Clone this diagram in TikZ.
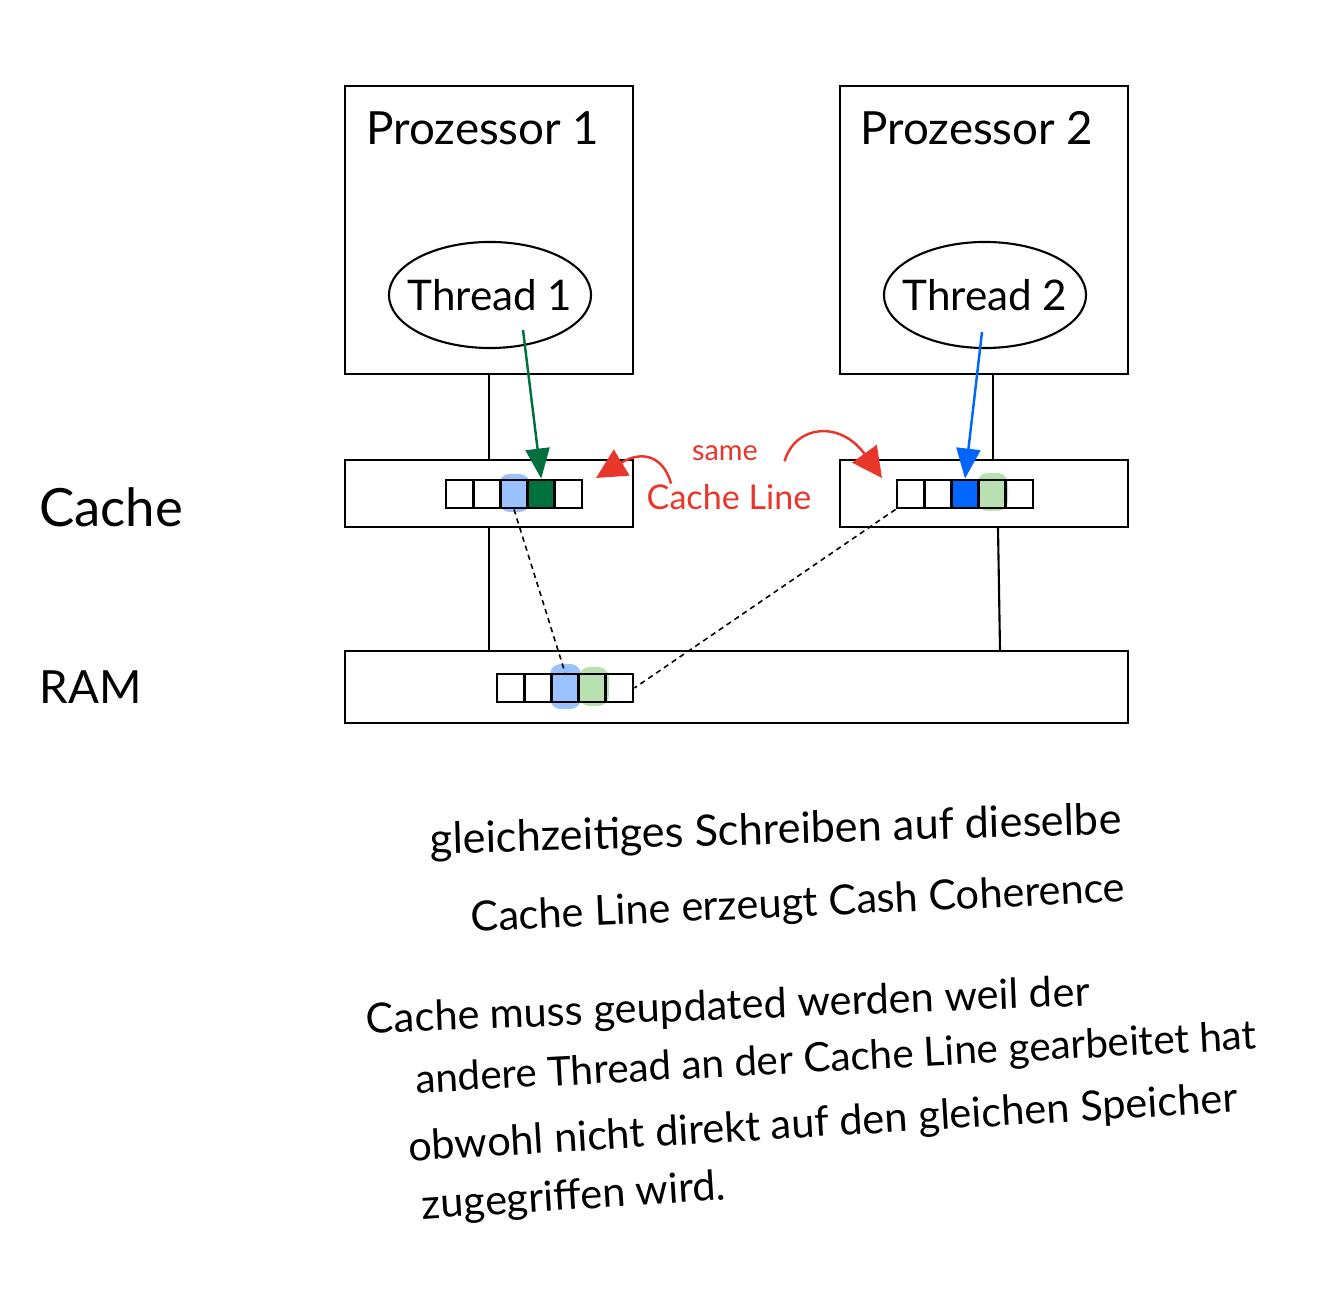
\documentclass[tikz,border=0pt]{standalone}
\usepackage{fontspec}
\setmainfont{Lato}
\usepackage{tikz}
\usetikzlibrary{positioning, arrows.meta, shapes.geometric}
\definecolor{notered}{RGB}{232, 55, 42}
\definecolor{darkgreen}{RGB}{0, 112, 60}
\definecolor{brightblue}{RGB}{0, 102, 255}
\definecolor{paleblue}{RGB}{153, 194, 255}
\definecolor{palegreen}{RGB}{185, 224, 176}

\begin{document}
\begin{tikzpicture}[x=0.01cm, y=-0.01cm,
    unit/.style={draw, line width=0.6pt, inner sep=0pt},
    thread/.style={draw, ellipse, line width=0.6pt, inner sep=0pt, minimum width=2.02cm, minimum height=1.06cm},
    cell/.style={draw, line width=0.8pt, minimum width=0.272cm, minimum height=0.28cm, inner sep=0pt},
    hand/.style={font=\fontsize{11.8}{13}\selectfont, inner sep=0pt},
    link/.style={line width=0.6pt},
    memlink/.style={line width=0.45pt, dash pattern=on 1.5pt off 1.2pt},
    access/.style={line width=0.7pt, -{Triangle[length=0.3cm, width=0.24cm]}},
    samearrow/.style={notered, line width=0.7pt, -{Triangle[length=0.3cm, width=0.3cm]}}]
  \useasboundingbox (0,0) rectangle (1342,1316);

  % processors
  \node[unit, minimum width=2.88cm, minimum height=2.88cm] (p1) at (489,230) {};
  \node[unit, minimum width=2.88cm, minimum height=2.88cm] (p2) at (984,230) {};
  \node[font=\fontsize{13}{15}\selectfont] (p1t) at (483,128) {Prozessor 1};
  \node[font=\fontsize{13}{15}\selectfont] (p2t) at (977,128) {Prozessor 2};
  \node[thread, label={[font=\fontsize{12}{14}\selectfont]center:Thread 1}] (t1) at (490,295) {};
  \node[thread, label={[font=\fontsize{12}{14}\selectfont]center:Thread 2}] (t2) at (985,295) {};

  % caches and ram
  \node[unit, minimum width=2.88cm, minimum height=0.67cm] (k1) at (489,493.5) {};
  \node[unit, minimum width=2.88cm, minimum height=0.67cm] (k2) at (984,493.5) {};
  \node[unit, minimum width=7.83cm, minimum height=0.72cm] (ram) at (736.5,687) {};
  \node[font=\fontsize{15}{17}\selectfont] (cachelbl) at (111,507) {Cache};
  \node[font=\fontsize{13}{15}\selectfont] (ramlbl) at (91,687) {RAM};

  \draw[link] (p1.south) -- (p1.south |- k1.north);
  \draw[link] ([xshift=0.09cm]p2.south) -- ([xshift=0.09cm]p2.south |- k2.north);
  \draw[link] (k1.south) -- (k1.south |- ram.north);
  \draw[link] ([xshift=0.14cm]k2.south) -- ([xshift=0.16cm]k2.south |- ram.north);

  % touched words
  \fill[paleblue, rounded corners=3pt] (499,474) rectangle (530,512);
  \fill[palegreen, rounded corners=3pt] (977,473) rectangle (1008,511);
  \fill[palegreen, rounded corners=3pt] (579,667) rectangle (609,706);
  \fill[paleblue, rounded corners=3pt] (550,664) rectangle (581,709);

  \foreach \i/\f in {1/none, 2/none, 3/paleblue, 4/darkgreen, 5/none}
    \node[cell, fill=\f] (c1-\i) at ({446+27.2*(\i-0.5)},494) {};
  \foreach \i/\f in {1/none, 2/none, 3/brightblue, 4/palegreen, 5/none}
    \node[cell, fill=\f] (c2-\i) at ({897+27.2*(\i-0.5)},494) {};
  \foreach \i/\f in {1/none, 2/none, 3/paleblue, 4/palegreen, 5/none}
    \node[cell, fill=\f] (r-\i) at ({497+27.2*(\i-0.5)},688) {};

  \draw[memlink] (c1-3.south) -- (r-3.north);
  \draw[memlink] (c2-1.south west) -- (r-5.east);

  % writes
  \coordinate (t1src) at (523,330);
  \coordinate (t2src) at (982,332);
  \draw[access, darkgreen] (t1src) -- (c1-4.north);
  \draw[access, brightblue] (t2src) -- (c2-3.north);

  \node[font=\fontsize{8.2}{10}\selectfont, text=notered, inner sep=0pt] (same) at (725,453) {same};
  \node[font=\fontsize{9.7}{12}\selectfont, text=notered, inner sep=0pt] (cl) at (729,497) {Cache Line};
  \coordinate (hit1) at (596,478);
  \coordinate (hit2) at (882,478);
  \draw[samearrow] ([xshift=0.25cm]cl.north west) .. controls (664,458) and (644,449) .. (hit1);
  \draw[samearrow] ([xshift=0.26cm]same.south east) .. controls (795,425) and (840,420) .. (hit2);

  % notes
  \node[hand, font=\fontsize{12.3}{14}\selectfont, rotate=1.7] (n1) at (776,832) {gleichzeitiges Schreiben auf dieselbe};
  \node[hand, rotate=2.6] (n2) at (798,905) {Cache Line erzeugt Cash Coherence};
  \node[hand, rotate=2.2] (m1) at (728,1008) {Cache muss geupdated werden weil der};
  \node[hand, font=\fontsize{11.5}{13}\selectfont, rotate=3] (m2) at (836,1060) {andere Thread an der Cache Line gearbeitet hat};
  \node[hand, rotate=3.4] (m3) at (823,1125) {obwohl nicht direkt auf den gleichen Speicher};
  \node[hand, rotate=3.6] (m4) at (574,1198) {zugegriffen wird.};
\end{tikzpicture}
\end{document}
